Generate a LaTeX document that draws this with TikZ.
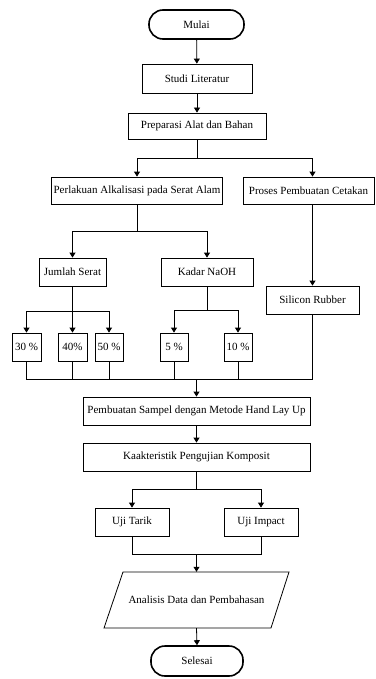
\documentclass[tikz,border=0pt]{standalone}
\usepackage{fontspec}
\setmainfont{Liberation Serif}
\usetikzlibrary{arrows.meta}
\begin{document}
\begin{tikzpicture}[x=1pt,y=-1pt,
  font=\fontsize{11}{13}\selectfont,
  box/.style={draw, line width=0.8pt, inner sep=0pt, minimum height=28pt},
  term/.style={draw, line width=1.6pt, inner sep=0pt, rounded corners=14pt, minimum height=29pt},
  arr/.style={line width=0.8pt, -{Triangle[length=5pt,width=6pt]}},
  ln/.style={line width=0.8pt}]
\useasboundingbox (0,0) rectangle (375,679);
\node[term, minimum width=95pt] (mulai) at (196.5,24.5) {Mulai};
\node[box, minimum width=110pt, minimum height=29pt] (studi) at (197,78.5) {Studi Literatur};
\node[box, minimum width=138pt, minimum height=26pt] (prep) at (197,126) {Preparasi Alat dan Bahan};
\node[box, minimum width=171pt, minimum height=27pt] (perl) at (137,190.5) {Perlakuan Alkalisasi pada Serat Alam};
\node[box, minimum width=131pt, minimum height=27pt] (proses) at (308.5,190.5) {Proses Pembuatan Cetakan};
\node[box, minimum width=67pt] (jumlah) at (72.5,272) {Jumlah Serat};
\node[box, minimum width=92pt] (kadar) at (207,272) {Kadar NaOH};
\node[box, minimum width=93pt] (silicon) at (312.5,300) {Silicon Rubber};
\node[box, minimum width=29pt] (p30) at (26.5,347) {30 \%};
\node[box, minimum width=29pt] (p40) at (72.5,347) {40\%};
\node[box, minimum width=28pt] (p50) at (109,347) {50 \%};
\node[box, minimum width=28pt] (p5) at (174,347) {5 \%};
\node[box, minimum width=28pt] (p10) at (238,347) {10 \%};
\node[box, minimum width=227pt] (pemb) at (196.5,411) {Pembuatan Sampel dengan Metode Hand Lay Up};
\node[box, minimum width=227pt] (kaak) at (196.5,457) {Kaakteristik Pengujian Komposit};
\node[box, minimum width=74pt] (tarik) at (132,522) {Uji Tarik};
\node[box, minimum width=74pt] (impact) at (261,522) {Uji Impact};
\node[inner sep=0pt, minimum width=166pt, minimum height=56pt] (anal) at (196.5,600) {Analisis Data dan Pembahasan};
\draw[ln] (123,572) -- (289,572) -- (271,628) -- (104,628) -- cycle;
\node[term, minimum width=92pt, minimum height=30pt] (selesai) at (197,661) {Selesai};
% connectors
\draw[arr] (mulai) -- (studi);
\draw[arr] (studi) -- (prep);
\coordinate (j1) at (197,158);
\draw[ln] (prep.south) -- (j1);
\draw[arr] (j1) -| (perl.north);
\draw[arr] (j1) -| ([xshift=4pt]proses.north);
\draw[arr] ([xshift=4pt]proses.south) -- (silicon.north);
\coordinate (j2) at (137,231);
\draw[ln] (perl.south) -- (j2);
\draw[arr] (j2) -| (jumlah.north);
\draw[arr] (j2) -| (kadar.north);
\coordinate (j3) at (72.5,311);
\draw[ln] (jumlah.south) -- (j3);
\draw[arr] (j3) -| (p30.north);
\draw[arr] (j3) -- (p40.north);
\draw[arr] (j3) -| (p50.north);
\coordinate (j4) at (207,310);
\draw[ln] (kadar.south) -- (j4);
\draw[arr] (j4) -| (p5.north);
\draw[arr] (j4) -| (p10.north);
\coordinate (j5) at (196.5,379);
\draw[ln] (p30.south) |- (j5);
\draw[ln] (p40.south) -- (p40.south |- j5);
\draw[ln] (p50.south) -- (p50.south |- j5);
\draw[ln] (p5.south) -- (p5.south |- j5);
\draw[ln] (p10.south) -- (p10.south |- j5);
\draw[ln] (silicon.south) |- (j5);
\draw[arr] (j5) -- (pemb.north);
\draw[arr] (pemb) -- (kaak);
\coordinate (j6) at (196.5,489);
\draw[ln] (kaak.south) -- (j6);
\draw[arr] (j6) -| (tarik.north);
\draw[arr] (j6) -| (impact.north);
\coordinate (j7) at (196.5,554);
\draw[ln] (tarik.south) |- (j7);
\draw[ln] (impact.south) |- (j7);
\draw[arr] (j7) -- (anal.north);
\draw[arr] (anal.south) -- (selesai.north);
\end{tikzpicture}
\end{document}
